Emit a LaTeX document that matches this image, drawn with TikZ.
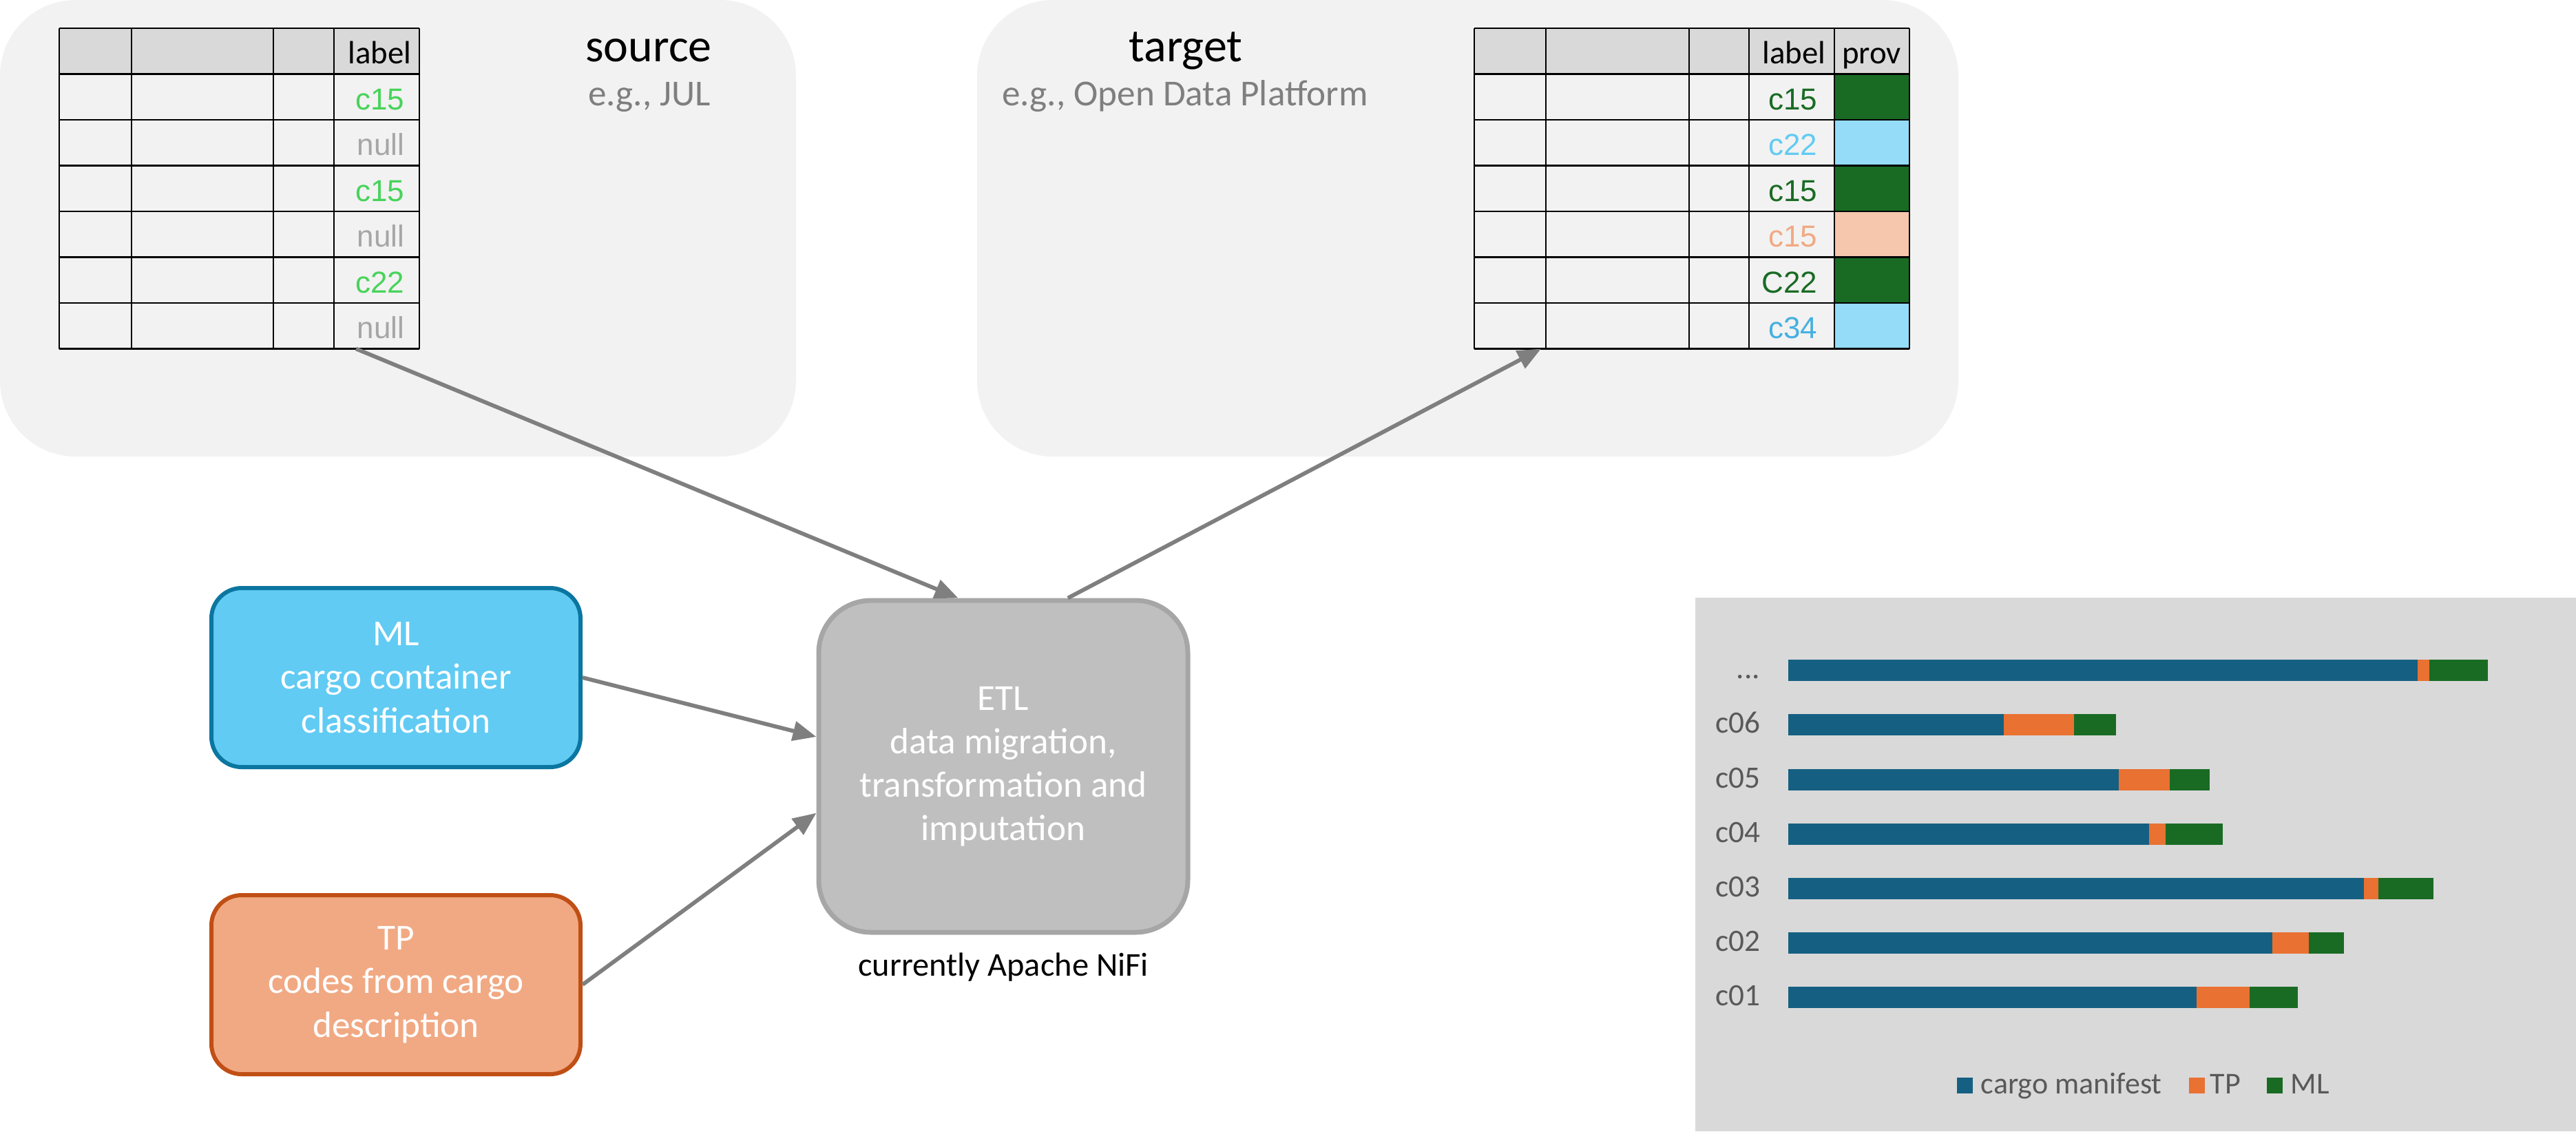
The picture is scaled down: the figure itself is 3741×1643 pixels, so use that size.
\documentclass[tikz,border=0pt]{standalone}
\usepackage{fontspec}
\setmainfont{Carlito}
\newfontfamily\cellfont{Liberation Sans}
\usetikzlibrary{arrows.meta,calc}
\definecolor{panelbg}{HTML}{F2F2F2}
\definecolor{hdrfill}{HTML}{D9D9D9}
\definecolor{chartbg}{HTML}{D9D9D9}
\definecolor{subgray}{HTML}{7F7F7F}
\definecolor{nullgray}{HTML}{A6A6A6}
\definecolor{srcgreen}{HTML}{47D35A}
\definecolor{dkgreen}{HTML}{196B24}
\definecolor{ltblue}{HTML}{61CBF3}
\definecolor{midblue}{HTML}{45B0E1}
\definecolor{peachtxt}{HTML}{F1A983}
\definecolor{provblue}{HTML}{94DCF8}
\definecolor{provpeach}{HTML}{F6C6AD}
\definecolor{mlfill}{HTML}{61CBF3}
\definecolor{mlborder}{HTML}{0B76A0}
\definecolor{tpfill}{HTML}{F1A983}
\definecolor{tpborder}{HTML}{C04F15}
\definecolor{etlfill}{HTML}{BFBFBF}
\definecolor{etlborder}{HTML}{A6A6A6}
\definecolor{arrgray}{HTML}{7F7F7F}
\definecolor{cmblue}{HTML}{156082}
\definecolor{tporange}{HTML}{E97132}
\definecolor{mlgreen}{HTML}{196B24}
\definecolor{charttxt}{HTML}{595959}
\tikzset{
  gridline/.style={draw=black,line width=0.6pt},
  hdrtext/.style={anchor=base east,inner sep=0pt,font=\fontsize{11.7}{13}\selectfont},
  celltext/.style={anchor=base east,inner sep=0pt,font=\cellfont\fontsize{11}{13}\selectfont},
  titletext/.style={anchor=base,inner sep=0pt,font=\fontsize{17}{20}\selectfont},
  subtext/.style={anchor=base,inner sep=0pt,text=subgray,font=\fontsize{13.3}{16}\selectfont},
  procbox/.style={align=center,text=white,inner sep=0pt,line width=1.5pt,
    font=\fontsize{13.3}{15.8}\selectfont},
  mlbox/.style={procbox,draw=mlborder,fill=mlfill,rounded corners=11pt,
    minimum width=134pt,minimum height=65pt},
  tpbox/.style={procbox,draw=tpborder,fill=tpfill,rounded corners=11pt,
    minimum width=134pt,minimum height=65pt},
  etlbox/.style={procbox,draw=etlborder,fill=etlfill,rounded corners=19pt,
    line width=1.75pt,minimum width=134pt,minimum height=120.5pt},
  arr/.style={draw=arrgray,line width=1.45pt,-{Triangle[length=8.5pt,width=7pt]}},
  chartlab/.style={anchor=base east,inner sep=0pt,text=charttxt,font=\fontsize{11.3}{13}\selectfont},
  legtext/.style={anchor=base west,inner sep=0pt,text=charttxt,font=\fontsize{11}{13}\selectfont},
}
\begin{document}
\begin{tikzpicture}[x=0.25pt,y=-0.25pt]
\useasboundingbox (0,0) rectangle (3741,1643);
\fill[white] (0,0) rectangle (3741,1643);

% panels
\fill[panelbg,rounded corners=27.5pt] (0,0) rectangle (1156,663);
\fill[panelbg,rounded corners=27.5pt] (1419,0) rectangle (2844,663);
\fill[chartbg] (2462,868) rectangle (3741,1643);

% titles
\node[titletext] (srctitle) at (942,89) {source};
\node[subtext] (srcsub) at (943,153) {e.g., JUL};
\node[titletext] (tgttitle) at (1722,89) {target};
\node[subtext] (tgtsub) at (1721,153) {e.g., Open Data Platform};

% source table
\fill[hdrfill] (86,41) rectangle (609,107.5);
\foreach \k in {0,...,7} \draw[gridline] (86,41+66.5*\k) -- (609,41+66.5*\k);
\foreach \xx in {86,191,397,485,609} \draw[gridline] (\xx,41) -- (\xx,506.5);
\node[hdrtext] (srchdr) at (598,92) {label};
\foreach \v/\c [count=\k] in {c15/srcgreen,null/nullgray,c15/srcgreen,null/nullgray,c22/srcgreen,null/nullgray}
  \node[celltext,text=\c] (s\k) at (588,41+66.5*\k+51.5) {\v};
\coordinate (srcout) at (517,506.5);

% target table
\fill[hdrfill] (2141,41) rectangle (2773,107.5);
\foreach \c [count=\k] in {dkgreen,provblue,dkgreen,provpeach,dkgreen,provblue}
  \fill[\c] (2664,41+66.5*\k) rectangle (2773,41+66.5*\k+66.5);
\foreach \k in {0,...,7} \draw[gridline] (2141,41+66.5*\k) -- (2773,41+66.5*\k);
\foreach \xx in {2141,2245,2453,2540,2664,2773} \draw[gridline] (\xx,41) -- (\xx,506.5);
\node[hdrtext] (tgthdr) at (2652,92) {label};
\node[hdrtext,anchor=base] (tgtprov) at (2718,92) {prov};
\foreach \v/\c [count=\k] in {c15/dkgreen,c22/ltblue,c15/dkgreen,c15/peachtxt,C22/dkgreen,c34/midblue}
  \node[celltext,text=\c] (t\k) at (2640,41+66.5*\k+51.5) {\v};
\coordinate (tgtin) at (2238,506.5);

% process boxes
\node[mlbox] (ml) at (575,984) {ML\\cargo container\\classification};
\node[tpbox] (tp) at (575,1430) {TP\\codes from cargo\\description};
\node[etlbox] (etl) at (1457,1113) {ETL\\data migration,\\transformation and\\imputation};
\node[inner sep=0pt,font=\fontsize{12.1}{14}\selectfont] (nifi) at (1457,1405) {currently Apache NiFi};

% connectors
\draw[arr] (srcout) -- (etl.105);
\draw[arr] (etl.69) -- (tgtin);
\draw[arr] (ml.east) -- (etl.171);
\draw[arr] (tp.east) -- (etl.194);

% bar chart
\foreach \y/\a/\b/\c/\lab [count=\i] in {
   973/3511/3528/3613/{...},
  1052/2910/3012/3073/c06,
  1132/3077/3151/3209/c05,
  1211/3121/3145/3228/c04,
  1290/3433/3454/3534/c03,
  1369/3300/3353/3404/c02,
  1448/3190/3267/3337/c01}{
  \fill[cmblue] (2597,\y-15.5) rectangle (\a,\y+15.5);
  \fill[tporange] (\a,\y-15.5) rectangle (\b,\y+15.5);
  \fill[mlgreen] (\b,\y-15.5) rectangle (\c,\y+15.5);
  \node[chartlab] (cl\i) at (2557,\y+12) {\lab};
}
% legend
\fill[cmblue] (2842,1565) rectangle (2865,1588);
\node[legtext] (legcm) at (2876,1588) {cargo manifest};
\fill[tporange] (3179,1565) rectangle (3202,1588);
\node[legtext] (legtp) at (3209,1588) {TP};
\fill[mlgreen] (3292,1565) rectangle (3315,1588);
\node[legtext] (legml) at (3326,1588) {ML};
\end{tikzpicture}
\end{document}
